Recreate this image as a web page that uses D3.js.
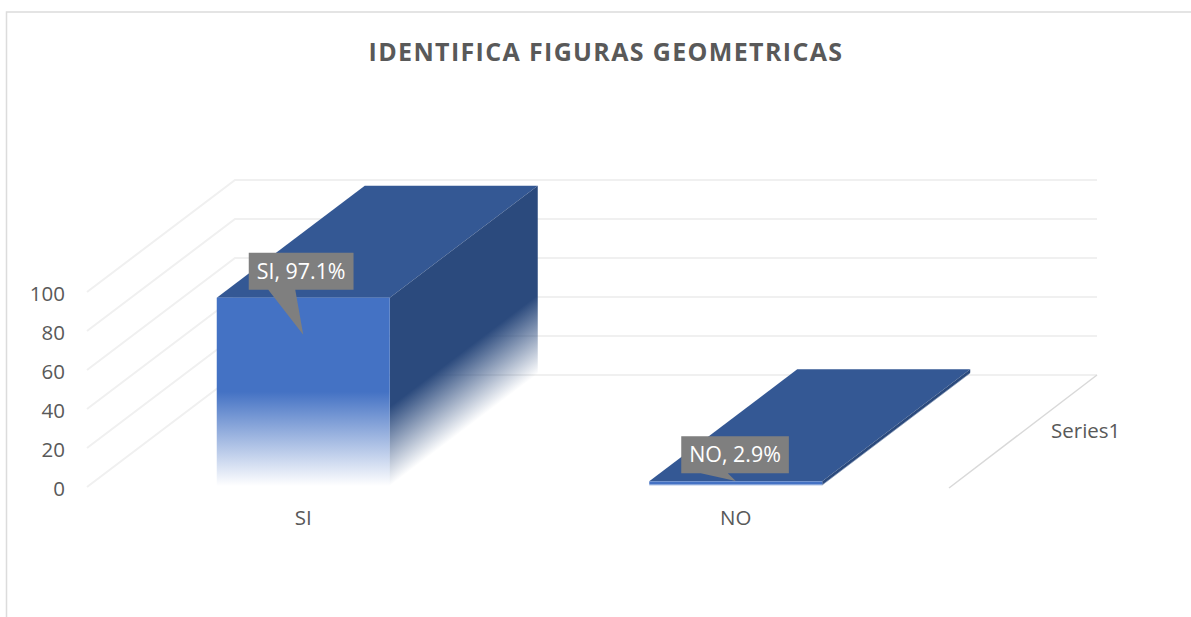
<!DOCTYPE html>
<html>
<head>
<meta charset="utf-8">
<script src="https://cdn.jsdelivr.net/npm/d3@7"></script>
<style>
    body { margin: 0; background: #fff; }
    text { font-family: "Open Sans", sans-serif; fill: #595959; }
    .grid { stroke: #f0f0f0; stroke-width: 2; fill: none; }
    .tick-label { font-size: 20.5px; }
    .callout-label { font-size: 21.4px; fill: #fff; }
</style>
</head>
<body>
<div id="chart"></div>
<script>
const titleText = "IDENTIFICA FIGURAS GEOMETRICAS";
const categories = ["SI", "NO"];
const values = [97.1, 2.9];
const labels = ["SI, 97.1%", "NO, 2.9%"];
const yTicks = [0, 20, 40, 60, 80, 100];
const seriesName = "Series1";

const width = 1191;
const height = 617;

// Projection of the depth axis, front plane to back wall
const depthX = 148;
const depthY = -112;

const x = d3.scaleBand().domain(categories).range([87, 952]).paddingInner(0.6).paddingOuter(0.3);
const y = d3.scaleLinear().domain([0, 100]).range([487, 292]);
const barBase = y(0) - 1;

const svg = d3.select("#chart").append("svg")
    .attr("width", width)
    .attr("height", height)
    .style("display", "block");
const defs = svg.append("defs");

// Chart frame, only top and left reach into the crop
svg.append("path")
    .attr("d", `M6.5,${height}V12H${width}`)
    .attr("fill", "none")
    .attr("stroke", "#dcdcdc")
    .attr("stroke-width", 1.5);

svg.append("text")
    .attr("x", 606)
    .attr("y", 61)
    .attr("text-anchor", "middle")
    .style("font-size", "25px")
    .style("font-weight", 700)
    .style("letter-spacing", "1.35px")
    .text(titleText);

// Gridlines: side wall, then back wall
const wallLeft = x.range()[0];
const wallRight = 1097;
svg.append("g").selectAll("path")
    .data(yTicks)
    .join("path")
    .attr("class", "grid")
    .attr("d", t => `M${wallLeft},${y(t)}L${wallLeft + depthX},${y(t) + depthY}H${wallRight}`);

// Depth axis on the floor
svg.append("line")
    .attr("x1", wallRight - depthX)
    .attr("y1", y(0) + 1)
    .attr("x2", wallRight)
    .attr("y2", y(0) + depthY)
    .attr("stroke", "#d9d9d9")
    .attr("stroke-width", 1.5);

// Value axis, text only
const yAxis = svg.append("g")
    .attr("transform", "translate(65,1.5)")
    .call(d3.axisLeft(y).tickValues(yTicks).tickSize(0).tickPadding(0));
yAxis.select(".domain").remove();
yAxis.selectAll("text").attr("class", "tick-label");
yAxis.attr("font-family", null).attr("font-size", null);

// Category axis, text only
const xAxis = svg.append("g")
    .attr("transform", "translate(0,510)")
    .call(d3.axisBottom(x).tickSize(0).tickPadding(0));
xAxis.select(".domain").remove();
xAxis.selectAll("text").attr("class", "tick-label");
xAxis.attr("font-family", null).attr("font-size", null);

svg.append("text")
    .attr("class", "tick-label")
    .attr("x", 1051)
    .attr("y", 438)
    .text(seriesName);

// Front face gradient, blue fading out to the base
const frontGradient = defs.append("linearGradient")
    .attr("id", "front-fade")
    .attr("x1", 0).attr("y1", 0).attr("x2", 0).attr("y2", 1);
[[0, 1], [0.5, 1], [1, 0]]
    .forEach(s => frontGradient.append("stop")
        .attr("offset", s[0]).attr("stop-color", "#4472c4").attr("stop-opacity", s[1]));

const bars = svg.append("g").selectAll("g")
    .data(categories.map((c, i) => ({ category: c, value: values[i], label: labels[i], index: i })))
    .join("g");

// Side face gradient runs across the bottom edge, so each bar needs its own
bars.each(d => {
    const edgeX = x(d.category) + x.bandwidth();
    const fade = (barBase - y(d.value)) * 0.42;
    const len = Math.hypot(depthX, depthY);
    const nx = depthY / len;
    const ny = -depthX / len;
    const dist = fade * depthX / len;
    const g = defs.append("linearGradient")
        .attr("id", `side-fade-${d.index}`)
        .attr("gradientUnits", "userSpaceOnUse")
        .attr("x1", edgeX)
        .attr("y1", barBase)
        .attr("x2", edgeX + nx * dist)
        .attr("y2", barBase + ny * dist);
    g.append("stop").attr("offset", 0).attr("stop-color", "#2b4a7d").attr("stop-opacity", 0);
    g.append("stop").attr("offset", 1).attr("stop-color", "#2b4a7d").attr("stop-opacity", 1);
});

// Top face
bars.append("path")
    .attr("fill", "#345894")
    .attr("d", d => {
        const left = x(d.category);
        const right = left + x.bandwidth();
        const top = y(d.value);
        return `M${left},${top}L${left + depthX},${top + depthY}H${right + depthX}L${right},${top}Z`;
    });

// Side face
bars.append("path")
    .attr("fill", d => `url(#side-fade-${d.index})`)
    .attr("d", d => {
        const right = x(d.category) + x.bandwidth();
        const top = y(d.value);
        return `M${right},${top}L${right + depthX},${top + depthY}V${barBase + depthY}L${right},${barBase}Z`;
    });

// Front face
bars.append("rect")
    .attr("x", d => x(d.category))
    .attr("y", d => y(d.value))
    .attr("width", x.bandwidth())
    .attr("height", d => barBase - y(d.value))
    .attr("fill", "url(#front-fade)");

// Data callouts, box sized from its text
const calloutHeight = 37;
const calloutPad = 8;
const callouts = svg.append("g").selectAll("g")
    .data(bars.data())
    .join("g")
    .attr("transform", d => `translate(${x(d.category) + 32},${y(d.value) - 45})`);

const calloutBox = callouts.append("path").attr("fill", "#7f7f7f");

const calloutText = callouts.append("text")
    .attr("class", "callout-label")
    .attr("x", calloutPad)
    .attr("y", 26)
    .text(d => d.label);

calloutBox.attr("d", function(d) {
    const w = this.parentNode.querySelector("text").getComputedTextLength() + calloutPad * 2;
    const mid = x.bandwidth() / 2 - 32;
    const tip = Math.min(y(d.value) + 37, y(0) - 6) - (y(d.value) - 45);
    return `M0,0H${w}V${calloutHeight}H${mid - 8}L${mid},${tip}L${mid - 35},${calloutHeight}H0Z`;
});
</script>
</body>
</html>
